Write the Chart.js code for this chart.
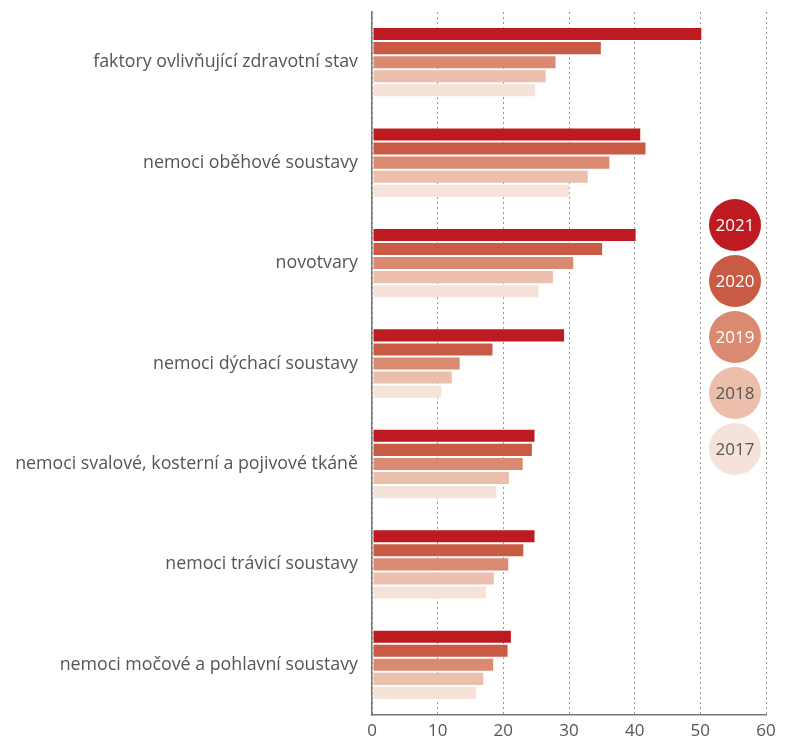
<!DOCTYPE html>
<html>
<head>
<meta charset="utf-8">
<script src="https://cdn.jsdelivr.net/npm/chart.js@4/dist/chart.umd.min.js"></script>
<style>
  html, body { margin: 0; padding: 0; background: #fff; }
  #wrap { width: 787px; height: 740px; }
</style>
</head>
<body>
<div id="wrap"><canvas id="diagnozyChart"></canvas></div>
<script>
// kategorie (diagnózy)
let categories = [
	"faktory ovlivňující zdravotní stav",
	"nemoci oběhové soustavy",
	"novotvary",
	"nemoci dýchací soustavy",
	"nemoci svalové, kosterní a pojivové tkáně",
	"nemoci trávicí soustavy",
	"nemoci močové a pohlavní soustavy"
];

// roky
let years = ["2021", "2020", "2019", "2018", "2017"];

// hodnoty podle roku
let values2021 = [50.3, 41.0, 40.3, 29.4, 24.9, 24.9, 21.3];
let values2020 = [35.0, 41.8, 35.2, 18.5, 24.5, 23.2, 20.8];
let values2019 = [28.1, 36.3, 30.8, 13.5, 23.1, 20.9, 18.6];
let values2018 = [26.6, 33.0, 27.7, 12.3, 21.0, 18.7, 17.1];
let values2017 = [25.0, 30.2, 25.5, 10.7, 19.1, 17.5, 16.0];

// osa x
let xTicks = [0, 10, 20, 30, 40, 50, 60];

let yearColors = ["#be1a21", "#c95a43", "#db8a72", "#ecbfad", "#f5e3da"];
let legendText = ["#ffffff", "#ffffff", "#ffffff", "#555555", "#555555"];

let fontFamily = "'Open Sans', 'Noto Sans', sans-serif";

// legenda jako kolečka s rokem
let circleLegend = {
	id: "circleLegend",
	afterDraw: function(chart){
		let ctx = chart.ctx;
		let cx = 735;
		let startY = 225;
		let step = 56;
		let r = 26;
		ctx.save();
		for(let i = 0; i < years.length; i++){
			let cy = startY + i * step;
			ctx.beginPath();
			ctx.arc(cx, cy, r, 0, Math.PI * 2);
			ctx.fillStyle = yearColors[i];
			ctx.fill();
			ctx.fillStyle = legendText[i];
			ctx.font = "17px " + fontFamily;
			ctx.textAlign = "center";
			ctx.textBaseline = "middle";
			ctx.fillText(years[i], cx, cy + 1);
		}
		ctx.restore();
	}
};

let seriesValues = [values2021, values2020, values2019, values2018, values2017];
let datasets = [];
for(let i = 0; i < years.length; i++){
	datasets.push({
		label: years[i],
		data: seriesValues[i],
		backgroundColor: yearColors[i],
		borderColor: "rgba(255, 255, 255, .2)",
		borderWidth: 1,
		borderSkipped: false,
		categoryPercentage: 0.7,
		barPercentage: 1.0
	});
}

let ctx = document.getElementById("diagnozyChart").getContext("2d");
let myChart = new Chart(ctx, {
	type: "bar",
	data: {
		labels: categories,
		datasets: datasets
	},
	options: {
		indexAxis: "y",
		responsive: true,
		maintainAspectRatio: false,
		animation: false,
		layout: {
			padding: { top: 12, right: 21, bottom: 0, left: 0 }
		},
		plugins: {
			legend: { display: false },
			tooltip: { enabled: false }
		},
		scales: {
			x: {
				min: 0,
				max: 60,
				afterBuildTicks: function(scale){
					scale.ticks = xTicks.map(function(v){ return { value: v }; });
				},
				afterFit: function(scale){
					scale.height = 25;
				},
				grid: {
					color: "#999999",
					lineWidth: 1,
					drawTicks: false
				},
				border: {
					display: true,
					color: "#777777",
					width: 1.5,
					dash: [2, 3]
				},
				ticks: {
					color: "#555555",
					padding: 6,
					font: { family: fontFamily, size: 17 }
				}
			},
			y: {
				afterFit: function(scale){
					scale.width = 372;
					scale.paddingTop = 0;
					scale.paddingBottom = 0;
				},
				grid: { display: false, drawTicks: false },
				border: {
					display: true,
					color: "#777777",
					width: 1.5
				},
				ticks: {
					color: "#555555",
					padding: 14,
					font: { family: fontFamily, size: 17.8 }
				}
			}
		}
	},
	plugins: [circleLegend]
});
</script>
</body>
</html>
